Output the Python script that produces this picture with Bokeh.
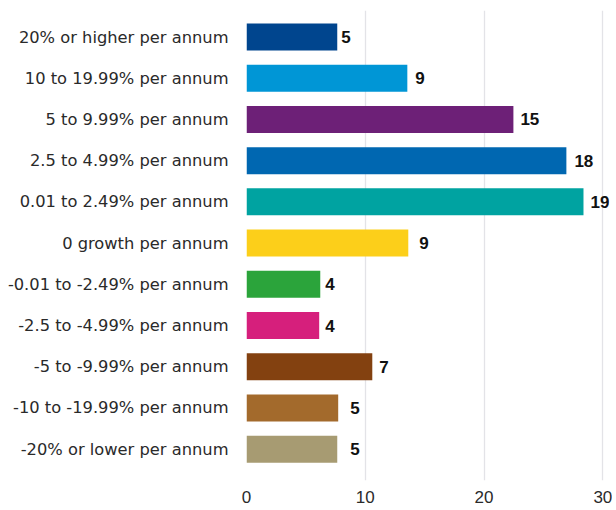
from bokeh.plotting import figure
from bokeh.models import Range1d, FixedTicker, ColumnDataSource
from bokeh.embed import file_html
from bokeh.resources import INLINE
from bokeh.core.properties import value

categories = [
    "20% or higher per annum",
    "10 to 19.99% per annum",
    "5 to 9.99% per annum",
    "2.5 to 4.99% per annum",
    "0.01 to 2.49% per annum",
    "0 growth per annum",
    "-0.01 to -2.49% per annum",
    "-2.5 to -4.99% per annum",
    "-5 to -9.99% per annum",
    "-10 to -19.99% per annum",
    "-20% or lower per annum",
]
bar_values = [7.64, 13.54, 22.47, 26.93, 28.37, 13.62, 6.21, 6.12, 10.59, 7.72, 7.64]
value_labels = ["5", "9", "15", "18", "19", "9", "4", "4", "7", "5", "5"]
bar_colors = ["#00458E", "#0096D6", "#6D2077", "#0067B1", "#00A3A1", "#FCCF1A",
              "#2BA43B", "#D61F7C", "#834110", "#A36A2C", "#A79B72"]
x_ticks = [0, 10, 20, 30]

# label gap after each bar end (px, styling only)
label_gaps = [4, 8, 7, 8, 7, 11, 5, 6, 7, 12, 13]

positions = list(range(len(categories)))
src = ColumnDataSource(dict(y=positions, v=bar_values, lab=value_labels, c=bar_colors,
                            off=label_gaps))

p = figure(width=612, height=508,
           x_range=Range1d(0, 30.56), y_range=Range1d(10.76, -0.643),
           output_backend="svg", toolbar_location=None,
           min_border_left=246, min_border_right=3, min_border_top=10, min_border_bottom=28)

p.hbar(y="y", left=0, right="v", height=0.655, fill_color="c", line_color=None, source=src)
p.text(x="v", y="y", text="lab", x_offset="off", text_baseline="middle", text_align="left",
       text_font=value("Liberation Sans"), text_font_style="bold", text_font_size="17px",
       text_color="#111111", source=src)

p.outline_line_color = None
p.ygrid.visible = False
p.xgrid.ticker = FixedTicker(ticks=x_ticks)
p.xgrid.grid_line_color = "#e3e3e7"
p.xgrid.grid_line_width = 1.3

p.yaxis.ticker = FixedTicker(ticks=positions)
p.yaxis.major_label_overrides = {i: c for i, c in zip(positions, categories)}
p.xaxis.ticker = FixedTicker(ticks=x_ticks)
for ax in (p.xaxis, p.yaxis):
    ax.axis_line_color = None
    ax.major_tick_line_color = None
    ax.minor_tick_line_color = None
    ax.major_tick_out = 0
    ax.major_tick_in = 0
    ax.major_label_text_color = "#2a2a2a"
p.yaxis.major_label_text_font = "DejaVu Sans"
p.yaxis.major_label_text_font_size = "16.3px"
p.yaxis.major_label_standoff = 18
p.xaxis.major_label_text_font = "Liberation Sans"
p.xaxis.major_label_text_font_size = "17px"
p.xaxis.major_label_standoff = 10

open("out.html", "w").write(file_html(p, INLINE))
